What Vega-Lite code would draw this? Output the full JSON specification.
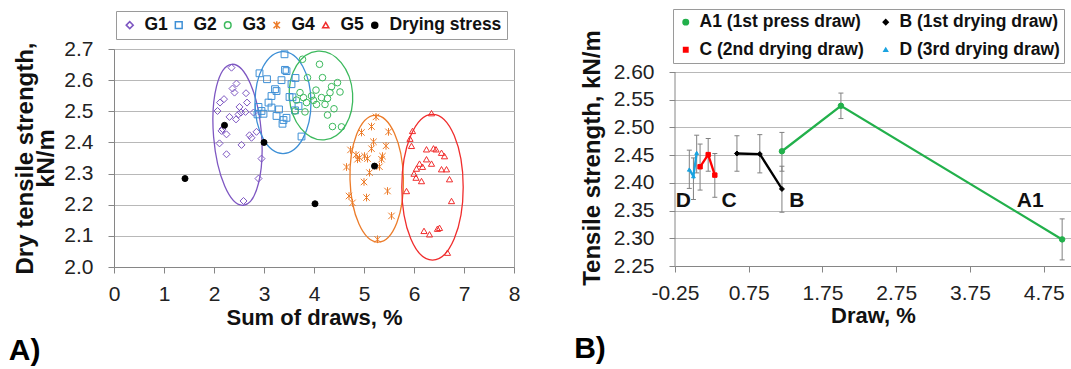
{
  "$schema": "https://vega.github.io/schema/vega-lite/v6.json",
  "padding": {"left": 8, "top": 8, "right": 0, "bottom": 0},
  "spacing": 53,
  "resolve": {"scale": {"stroke": "independent", "fill": "independent", "shape": "independent", "size": "independent", "color": "independent"}, "legend": {"stroke": "independent", "fill": "independent", "shape": "independent", "size": "independent"}},
  "config": {
    "font": "Liberation Sans",
    "view": {"stroke": null},
    "axis": {
      "labelFont": "Liberation Sans", "labelFontSize": 21, "labelColor": "#222",
      "titleFont": "Liberation Sans", "titleFontSize": 22, "titleFontWeight": "bold", "titleColor": "#111",
      "domainColor": "#868686", "tickColor": "#868686", "gridColor": "#b8b8b8",
      "tickSize": 6, "labelFlush": false, "labelOverlap": false, "tickCount": 30
    },
    "legend": {"labelFont": "Liberation Sans", "labelColor": "#111"},
    "title": {"font": "Liberation Sans", "color": "#000"}
  },
  "hconcat": [
    {
      "width": 400, "height": 218,
      "view": {"stroke": "#a0a0a0"},
      "title": {"text": "A)", "orient": "bottom", "anchor": "start", "fontSize": 30, "fontWeight": "bold", "dx": -5, "offset": 8},
      "layer": [
        {
          "data": {"values": [{"x": 2.47, "y": 2.4245}]},
          "mark": {"type": "point", "shape": "M23.9,-2C20.7,-40.9 7.4,-71.6 -5.8,-70.5C-19,-69.4 -27.1,-37 -23.9,2C-20.7,40.9 -7.4,71.6 5.8,70.5C19,69.4 27.1,37 23.9,-2Z", "size": 4, "filled": false, "stroke": "#7E57C2", "strokeWidth": 1.3, "opacity": 1},
          "encoding": {"x": {"field": "x", "type": "quantitative"}, "y": {"field": "y", "type": "quantitative"}}
        },
        {
          "data": {"values": [{"x": 3.38, "y": 2.528}]},
          "mark": {"type": "point", "shape": "M28,0C28,-28.2 15.5,-51 0,-51C-15.5,-51 -28,-28.2 -28,0C-28,28.2 -15.5,51 0,51C15.5,51 28,28.2 28,0Z", "size": 4, "filled": false, "stroke": "#3d8fd6", "strokeWidth": 1.3, "opacity": 1},
          "encoding": {"x": {"field": "x", "type": "quantitative"}, "y": {"field": "y", "type": "quantitative"}}
        },
        {
          "data": {"values": [{"x": 4.14, "y": 2.5507}]},
          "mark": {"type": "point", "shape": "M31.6,-2.2C29.9,-26.7 14.4,-45.6 -3.1,-44.4C-20.6,-43.2 -33.3,-22.3 -31.6,2.2C-29.9,26.7 -14.4,45.6 3.1,44.4C20.6,43.2 33.3,22.3 31.6,-2.2Z", "size": 4, "filled": false, "stroke": "#3cb95d", "strokeWidth": 1.3, "opacity": 1},
          "encoding": {"x": {"field": "x", "type": "quantitative"}, "y": {"field": "y", "type": "quantitative"}}
        },
        {
          "data": {"values": [{"x": 5.254, "y": 2.2836}]},
          "mark": {"type": "point", "shape": "M26.7,-0.7C25.8,-35.7 13.1,-63.8 -1.7,-63.4C-16.4,-63 -27.6,-34.3 -26.7,0.7C-25.8,35.7 -13.1,63.8 1.7,63.4C16.4,63 27.6,34.3 26.7,-0.7Z", "size": 4, "filled": false, "stroke": "#ec7c2a", "strokeWidth": 1.3, "opacity": 1},
          "encoding": {"x": {"field": "x", "type": "quantitative"}, "y": {"field": "y", "type": "quantitative"}}
        },
        {
          "data": {"values": [{"x": 6.37, "y": 2.2563}]},
          "mark": {"type": "point", "shape": "M30.7,0C30.7,-40.3 17,-72.9 0,-72.9C-17,-72.9 -30.7,-40.3 -30.7,0C-30.7,40.3 -17,72.9 0,72.9C17,72.9 30.7,40.3 30.7,0Z", "size": 4, "filled": false, "stroke": "#f02d2d", "strokeWidth": 1.3, "opacity": 1},
          "encoding": {"x": {"field": "x", "type": "quantitative"}, "y": {"field": "y", "type": "quantitative"}}
        },
        {
          "data": {"values": [
            {"group": "G1", "x": 2.35, "y": 2.640}, {"group": "G1", "x": 2.45, "y": 2.589}, {"group": "G1", "x": 2.37, "y": 2.573}, {"group": "G1", "x": 2.41, "y": 2.560},
            {"group": "G1", "x": 2.64, "y": 2.558}, {"group": "G1", "x": 2.20, "y": 2.539}, {"group": "G1", "x": 2.12, "y": 2.528}, {"group": "G1", "x": 2.66, "y": 2.528},
            {"group": "G1", "x": 2.51, "y": 2.514}, {"group": "G1", "x": 2.07, "y": 2.501}, {"group": "G1", "x": 2.49, "y": 2.490}, {"group": "G1", "x": 2.54, "y": 2.496},
            {"group": "G1", "x": 2.31, "y": 2.482}, {"group": "G1", "x": 2.63, "y": 2.498}, {"group": "G1", "x": 2.44, "y": 2.474}, {"group": "G1", "x": 2.79, "y": 2.496},
            {"group": "G1", "x": 2.15, "y": 2.437}, {"group": "G1", "x": 2.25, "y": 2.426}, {"group": "G1", "x": 2.71, "y": 2.423}, {"group": "G1", "x": 2.85, "y": 2.434},
            {"group": "G1", "x": 2.11, "y": 2.397}, {"group": "G1", "x": 2.55, "y": 2.392}, {"group": "G1", "x": 2.75, "y": 2.415}, {"group": "G1", "x": 2.25, "y": 2.362},
            {"group": "G1", "x": 2.95, "y": 2.348}, {"group": "G1", "x": 2.89, "y": 2.284}, {"group": "G1", "x": 2.59, "y": 2.212}, {"group": "G1", "x": 2.17, "y": 2.443},
            {"group": "G2", "x": 3.41, "y": 2.683}, {"group": "G2", "x": 2.91, "y": 2.622}, {"group": "G2", "x": 3.45, "y": 2.629}, {"group": "G2", "x": 3.06, "y": 2.603},
            {"group": "G2", "x": 3.35, "y": 2.600}, {"group": "G2", "x": 3.63, "y": 2.607}, {"group": "G2", "x": 3.22, "y": 2.571}, {"group": "G2", "x": 3.25, "y": 2.565},
            {"group": "G2", "x": 3.51, "y": 2.546}, {"group": "G2", "x": 3.15, "y": 2.549}, {"group": "G2", "x": 3.57, "y": 2.545}, {"group": "G2", "x": 2.89, "y": 2.514},
            {"group": "G2", "x": 3.09, "y": 2.528}, {"group": "G2", "x": 3.15, "y": 2.512}, {"group": "G2", "x": 3.30, "y": 2.506}, {"group": "G2", "x": 2.95, "y": 2.501},
            {"group": "G2", "x": 2.99, "y": 2.492}, {"group": "G2", "x": 2.87, "y": 2.490}, {"group": "G2", "x": 3.25, "y": 2.485}, {"group": "G2", "x": 3.45, "y": 2.479},
            {"group": "G2", "x": 3.37, "y": 2.460}, {"group": "G2", "x": 3.75, "y": 2.419}, {"group": "G2", "x": 3.42, "y": 2.633}, {"group": "G2", "x": 3.55, "y": 2.587},
            {"group": "G2", "x": 3.69, "y": 2.517}, {"group": "G2", "x": 3.62, "y": 2.503}, {"group": "G2", "x": 3.39, "y": 2.472},
            {"group": "G3", "x": 3.77, "y": 2.667}, {"group": "G3", "x": 4.11, "y": 2.651}, {"group": "G3", "x": 3.87, "y": 2.608}, {"group": "G3", "x": 4.17, "y": 2.608},
            {"group": "G3", "x": 4.47, "y": 2.592}, {"group": "G3", "x": 4.52, "y": 2.562}, {"group": "G3", "x": 4.35, "y": 2.579}, {"group": "G3", "x": 3.72, "y": 2.560},
            {"group": "G3", "x": 4.04, "y": 2.568}, {"group": "G3", "x": 4.32, "y": 2.560}, {"group": "G3", "x": 3.79, "y": 2.544}, {"group": "G3", "x": 3.95, "y": 2.549},
            {"group": "G3", "x": 4.15, "y": 2.544}, {"group": "G3", "x": 4.27, "y": 2.541}, {"group": "G3", "x": 3.65, "y": 2.536}, {"group": "G3", "x": 3.99, "y": 2.535},
            {"group": "G3", "x": 4.05, "y": 2.522}, {"group": "G3", "x": 3.85, "y": 2.528}, {"group": "G3", "x": 4.22, "y": 2.522}, {"group": "G3", "x": 4.40, "y": 2.508},
            {"group": "G3", "x": 3.62, "y": 2.501}, {"group": "G3", "x": 3.82, "y": 2.498}, {"group": "G3", "x": 4.27, "y": 2.488}, {"group": "G3", "x": 4.37, "y": 2.451},
            {"group": "G3", "x": 4.55, "y": 2.450},
            {"group": "G4", "x": 5.24, "y": 2.482}, {"group": "G4", "x": 5.15, "y": 2.451}, {"group": "G4", "x": 5.49, "y": 2.434}, {"group": "G4", "x": 4.95, "y": 2.432},
            {"group": "G4", "x": 5.19, "y": 2.402}, {"group": "G4", "x": 5.44, "y": 2.389}, {"group": "G4", "x": 5.15, "y": 2.380}, {"group": "G4", "x": 4.73, "y": 2.376},
            {"group": "G4", "x": 4.84, "y": 2.360}, {"group": "G4", "x": 4.91, "y": 2.351}, {"group": "G4", "x": 5.01, "y": 2.356}, {"group": "G4", "x": 4.87, "y": 2.346},
            {"group": "G4", "x": 5.07, "y": 2.348}, {"group": "G4", "x": 5.37, "y": 2.356}, {"group": "G4", "x": 5.35, "y": 2.346}, {"group": "G4", "x": 5.31, "y": 2.322},
            {"group": "G4", "x": 4.65, "y": 2.321}, {"group": "G4", "x": 5.11, "y": 2.303}, {"group": "G4", "x": 5.00, "y": 2.273}, {"group": "G4", "x": 5.47, "y": 2.244},
            {"group": "G4", "x": 4.70, "y": 2.228}, {"group": "G4", "x": 5.05, "y": 2.223}, {"group": "G4", "x": 4.77, "y": 2.206}, {"group": "G4", "x": 5.55, "y": 2.164},
            {"group": "G4", "x": 5.27, "y": 2.089},
            {"group": "G5", "x": 6.35, "y": 2.494}, {"group": "G5", "x": 5.97, "y": 2.437}, {"group": "G5", "x": 5.92, "y": 2.412}, {"group": "G5", "x": 5.95, "y": 2.389},
            {"group": "G5", "x": 6.25, "y": 2.378}, {"group": "G5", "x": 6.39, "y": 2.381}, {"group": "G5", "x": 6.44, "y": 2.378}, {"group": "G5", "x": 6.55, "y": 2.367},
            {"group": "G5", "x": 6.61, "y": 2.356}, {"group": "G5", "x": 6.25, "y": 2.346}, {"group": "G5", "x": 6.35, "y": 2.332}, {"group": "G5", "x": 6.11, "y": 2.332},
            {"group": "G5", "x": 6.17, "y": 2.322}, {"group": "G5", "x": 6.05, "y": 2.316}, {"group": "G5", "x": 6.55, "y": 2.314}, {"group": "G5", "x": 6.65, "y": 2.314},
            {"group": "G5", "x": 6.00, "y": 2.300}, {"group": "G5", "x": 6.04, "y": 2.287}, {"group": "G5", "x": 6.15, "y": 2.276}, {"group": "G5", "x": 6.71, "y": 2.282},
            {"group": "G5", "x": 5.85, "y": 2.244}, {"group": "G5", "x": 6.75, "y": 2.212}, {"group": "G5", "x": 6.20, "y": 2.116}, {"group": "G5", "x": 6.31, "y": 2.105},
            {"group": "G5", "x": 6.47, "y": 2.123}, {"group": "G5", "x": 6.51, "y": 2.126}, {"group": "G5", "x": 6.67, "y": 2.046},
            {"group": "Drying stress", "x": 1.42, "y": 2.284}, {"group": "Drying stress", "x": 2.21, "y": 2.455}, {"group": "Drying stress", "x": 3.0, "y": 2.40},
            {"group": "Drying stress", "x": 4.02, "y": 2.203}, {"group": "Drying stress", "x": 5.21, "y": 2.324}
          ]},
          "mark": {"type": "point", "strokeWidth": 1, "opacity": 1},
          "encoding": {
            "x": {"field": "x", "type": "quantitative", "scale": {"domain": [0, 8], "nice": false, "zero": false},
                  "axis": {"values": [0, 1, 2, 3, 4, 5, 6, 7, 8], "format": "d", "grid": false, "title": "Sum of draws, %", "labelPadding": 10, "titlePadding": 3}},
            "y": {"field": "y", "type": "quantitative", "scale": {"domain": [2.0, 2.7], "nice": false, "zero": false},
                  "axis": {"values": [2.0, 2.1, 2.2, 2.3, 2.4, 2.5, 2.6, 2.7], "format": ".1f", "grid": true, "title": ["Dry tensile strength,", "kN/m"], "titleFontSize": 24, "titleLineHeight": 21, "labelPadding": 15, "titlePadding": 5}},
            "stroke": {"field": "group", "type": "nominal",
                       "scale": {"domain": ["G1", "G2", "G3", "G4", "G5", "Drying stress"], "range": ["#7E57C2", "#3d8fd6", "#3cb95d", "#ec7c2a", "#f02d2d", "#000000"]},
                       "legend": {"title": null, "orient": "none", "legendX": 2, "legendY": -38, "direction": "horizontal", "strokeColor": "#9a9a9a", "padding": 5, "labelFontSize": 17.5, "labelFontWeight": "bold", "labelOffset": 6, "columnPadding": 2}},
            "fill": {"field": "group", "type": "nominal",
                     "scale": {"domain": ["G1", "G2", "G3", "G4", "G5", "Drying stress"], "range": ["transparent", "transparent", "transparent", "transparent", "transparent", "#000000"]},
                     "legend": {"title": null, "orient": "none", "legendX": 2, "legendY": -38, "direction": "horizontal", "strokeColor": "#9a9a9a", "padding": 5, "labelFontSize": 17.5, "labelFontWeight": "bold", "labelOffset": 6, "columnPadding": 2}},
            "shape": {"field": "group", "type": "nominal",
                      "scale": {"domain": ["G1", "G2", "G3", "G4", "G5", "Drying stress"], "range": ["diamond", "square", "circle", "M-1,-1L1,1M-1,1L1,-1M0,-1.2L0,1.2", "triangle-up", "circle"]},
                      "legend": {"title": null, "orient": "none", "legendX": 2, "legendY": -38, "direction": "horizontal", "strokeColor": "#9a9a9a", "padding": 5, "labelFontSize": 17.5, "labelFontWeight": "bold", "labelOffset": 6, "columnPadding": 2}},
            "size": {"field": "group", "type": "nominal",
                     "scale": {"domain": ["G1", "G2", "G3", "G4", "G5", "Drying stress"], "range": [49, 36, 36, 49, 49, 30]},
                     "legend": {"title": null, "orient": "none", "legendX": 2, "legendY": -38, "direction": "horizontal", "strokeColor": "#9a9a9a", "padding": 5, "labelFontSize": 17.5, "labelFontWeight": "bold", "labelOffset": 6, "columnPadding": 2}}
          }
        }
      ]
    },
    {
      "width": 396, "height": 217,
      "title": {"text": "B)", "orient": "bottom", "anchor": "start", "fontSize": 30, "fontWeight": "bold", "dx": -6, "offset": 8},
      "layer": [
        {
          "data": {"values": [{"x": -0.25, "lo": 2.25, "hi": 2.6}]},
          "mark": {"type": "rule", "color": "#868686", "strokeWidth": 1},
          "encoding": {
            "x": {"field": "x", "type": "quantitative"},
            "y": {"field": "lo", "type": "quantitative", "title": "Tensile strength, kN/m"},
            "y2": {"field": "hi"}
          }
        },
        {
          "data": {"name": "pts"},
          "mark": {"type": "rule", "color": "#808080", "strokeWidth": 1},
          "encoding": {
            "x": {"field": "x", "type": "quantitative"},
            "y": {"field": "lo", "type": "quantitative", "title": "Tensile strength, kN/m"},
            "y2": {"field": "hi"}
          }
        },
        {
          "data": {"name": "pts"},
          "mark": {"type": "tick", "orient": "horizontal", "color": "#808080", "size": 5, "thickness": 1, "opacity": 1},
          "encoding": {
            "x": {"field": "x", "type": "quantitative"},
            "y": {"field": "lo", "type": "quantitative", "title": "Tensile strength, kN/m"}
          }
        },
        {
          "data": {"name": "pts"},
          "mark": {"type": "tick", "orient": "horizontal", "color": "#808080", "size": 5, "thickness": 1, "opacity": 1},
          "encoding": {
            "x": {"field": "x", "type": "quantitative"},
            "y": {"field": "hi", "type": "quantitative", "title": "Tensile strength, kN/m"}
          }
        },
        {
          "data": {"name": "pts"},
          "mark": {"type": "line", "strokeWidth": 2.3},
          "encoding": {
            "x": {"field": "x", "type": "quantitative", "scale": {"domain": [-0.25, 5.12], "nice": false, "zero": false},
                  "axis": {"values": [-0.25, 0.75, 1.75, 2.75, 3.75, 4.75], "labelExpr": "replace(format(datum.value, '.2f'), '\u2212', '-')", "grid": false, "title": "Draw, %", "labelPadding": 10, "titlePadding": 2}},
            "y": {"field": "y", "type": "quantitative", "scale": {"domain": [2.25, 2.6415], "nice": false, "zero": false},
                  "axis": {"values": [2.25, 2.3, 2.35, 2.4, 2.45, 2.5, 2.55, 2.6], "format": ".2f", "grid": true, "domain": false, "title": "Tensile strength, kN/m", "titleFontSize": 24, "labelPadding": 15, "titlePadding": 9}},
            "stroke": {"field": "series", "type": "nominal",
                       "scale": {"domain": ["A1 (1st press draw)", "B (1st drying draw)", "C (2nd drying draw)", "D (3rd drying draw)"], "range": ["#22b04b", "#000000", "#ff0000", "#1aa3e0"]},
                       "legend": {"title": null, "orient": "none", "legendX": -2, "legendY": -40, "columns": 2, "direction": "horizontal", "strokeColor": "#9a9a9a", "padding": 4, "labelFontSize": 17.5, "labelFontWeight": "bold", "labelOffset": 5, "labelLimit": 400, "columnPadding": 13, "rowPadding": 9}}
          }
        },
        {
          "data": {"name": "pts"},
          "mark": {"type": "point", "filled": true, "strokeWidth": 1, "opacity": 1},
          "encoding": {
            "x": {"field": "x", "type": "quantitative"},
            "y": {"field": "y", "type": "quantitative", "title": "Tensile strength, kN/m"},
            "stroke": {"field": "series", "type": "nominal",
                       "legend": {"title": null, "orient": "none", "legendX": -2, "legendY": -40, "columns": 2, "direction": "horizontal", "strokeColor": "#9a9a9a", "padding": 4, "labelFontSize": 17.5, "labelFontWeight": "bold", "labelOffset": 5, "labelLimit": 400, "columnPadding": 13, "rowPadding": 9}},
            "fill": {"field": "series", "type": "nominal",
                     "scale": {"domain": ["A1 (1st press draw)", "B (1st drying draw)", "C (2nd drying draw)", "D (3rd drying draw)"], "range": ["#22b04b", "#000000", "#ff0000", "#1aa3e0"]},
                     "legend": {"title": null, "orient": "none", "legendX": -2, "legendY": -40, "columns": 2, "direction": "horizontal", "strokeColor": "#9a9a9a", "padding": 4, "labelFontSize": 17.5, "labelFontWeight": "bold", "labelOffset": 5, "labelLimit": 400, "columnPadding": 13, "rowPadding": 9}},
            "shape": {"field": "series", "type": "nominal",
                      "scale": {"domain": ["A1 (1st press draw)", "B (1st drying draw)", "C (2nd drying draw)", "D (3rd drying draw)"], "range": ["circle", "diamond", "square", "triangle-up"]},
                      "legend": null},
            "size": {"field": "series", "type": "nominal",
                     "scale": {"domain": ["A1 (1st press draw)", "B (1st drying draw)", "C (2nd drying draw)", "D (3rd drying draw)"], "range": [30, 14, 30, 34]},
                     "legend": null}
          }
        },
        {
          "data": {"values": [
            {"label": "D", "x": -0.137, "y": 2.367},
            {"label": "C", "x": 0.483, "y": 2.367},
            {"label": "B", "x": 1.401, "y": 2.367},
            {"label": "A1", "x": 4.567, "y": 2.367}
          ]},
          "mark": {"type": "text", "fontSize": 21, "fontWeight": "bold", "font": "Liberation Sans", "color": "#111", "align": "center", "baseline": "middle"},
          "encoding": {
            "x": {"field": "x", "type": "quantitative"},
            "y": {"field": "y", "type": "quantitative", "title": "Tensile strength, kN/m"},
            "text": {"field": "label"}
          }
        }
      ]
    }
  ],
  "datasets": {
    "pts": [
      {"series": "A1 (1st press draw)", "x": 1.2, "y": 2.457, "lo": 2.421, "hi": 2.491},
      {"series": "A1 (1st press draw)", "x": 2.0, "y": 2.539, "lo": 2.516, "hi": 2.562},
      {"series": "A1 (1st press draw)", "x": 5.0, "y": 2.298, "lo": 2.261, "hi": 2.335},
      {"series": "B (1st drying draw)", "x": 0.59, "y": 2.453, "lo": 2.421, "hi": 2.485},
      {"series": "B (1st drying draw)", "x": 0.9, "y": 2.452, "lo": 2.418, "hi": 2.487},
      {"series": "B (1st drying draw)", "x": 1.2, "y": 2.389, "lo": 2.347, "hi": 2.430},
      {"series": "C (2nd drying draw)", "x": 0.09, "y": 2.429, "lo": 2.387, "hi": 2.470},
      {"series": "C (2nd drying draw)", "x": 0.2, "y": 2.451, "lo": 2.421, "hi": 2.480},
      {"series": "C (2nd drying draw)", "x": 0.29, "y": 2.414, "lo": 2.374, "hi": 2.453},
      {"series": "D (3rd drying draw)", "x": -0.056, "y": 2.424, "lo": 2.390, "hi": 2.459},
      {"series": "D (3rd drying draw)", "x": 0.0, "y": 2.412, "lo": 2.370, "hi": 2.445},
      {"series": "D (3rd drying draw)", "x": 0.044, "y": 2.454, "lo": 2.418, "hi": 2.486}
    ]
  }
}
